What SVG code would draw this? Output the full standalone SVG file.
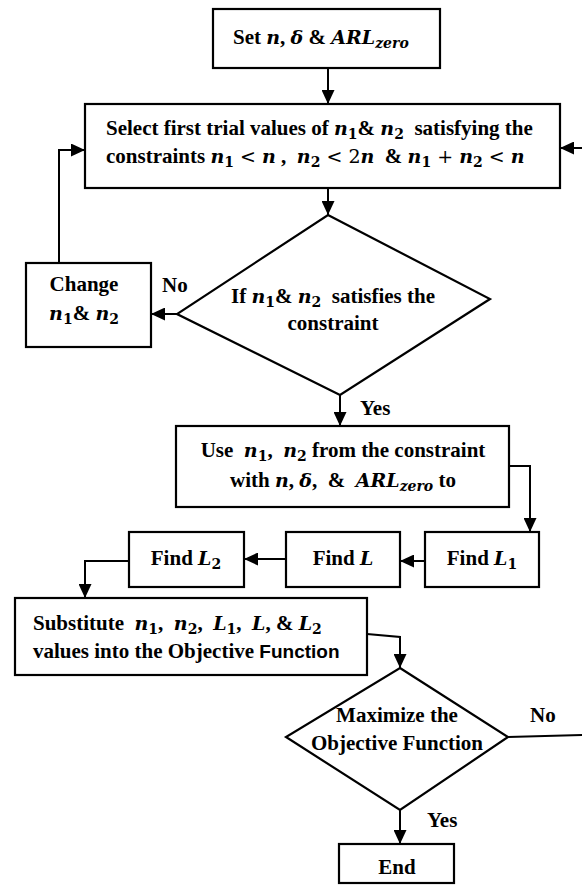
<svg xmlns="http://www.w3.org/2000/svg" width="582" height="886" viewBox="0 0 582 886">
<defs>
<marker id="ah" markerUnits="userSpaceOnUse" markerWidth="14" markerHeight="13" refX="14" refY="6.5" orient="auto">
<path d="M0,0 L14,6.5 L0,13 z" fill="#000"/>
</marker>
<style>
.box{fill:#fff;stroke:#000;stroke-width:2.2}
.ln{fill:none;stroke:#000;stroke-width:2}
.t{font-family:"Liberation Serif",serif;font-weight:bold;font-size:21px;fill:#000;white-space:pre}
.m{font-family:"DejaVu Serif",serif;font-style:italic;font-size:19px}
.s{font-family:"DejaVu Serif",serif;font-size:14px}
.r{font-family:"DejaVu Serif",serif;font-weight:normal;font-size:19px}
.sf{font-family:"Liberation Sans",sans-serif;font-size:19px}
</style>
</defs>
<rect width="582" height="886" fill="#fff"/>

<g id="connectors">
<line class="ln" x1="328" y1="68" x2="328" y2="104" marker-end="url(#ah)"/>
<line class="ln" x1="328" y1="188" x2="328" y2="215" marker-end="url(#ah)"/>
<line class="ln" x1="177" y1="314" x2="151" y2="314" marker-end="url(#ah)"/>
<polyline class="ln" points="59,263 59,150 85,150" marker-end="url(#ah)"/>
<line class="ln" x1="340" y1="395" x2="340" y2="426" marker-end="url(#ah)"/>
<polyline class="ln" points="509,466 530,466 530,532" marker-end="url(#ah)"/>
<line class="ln" x1="425" y1="561" x2="400" y2="561" marker-end="url(#ah)"/>
<line class="ln" x1="286" y1="559" x2="244" y2="559" marker-end="url(#ah)"/>
<polyline class="ln" points="129,561 85,561 85,598" marker-end="url(#ah)"/>
<polyline class="ln" points="367,634 400,637 400,668" marker-end="url(#ah)"/>
<line class="ln" x1="400" y1="810" x2="400" y2="844" marker-end="url(#ah)"/>
<line class="ln" x1="508" y1="737" x2="582" y2="735"/>
<line class="ln" x1="582" y1="148" x2="560" y2="148" marker-end="url(#ah)"/>
<text class="t" x="162" y="292">No</text>
<text class="t" x="360" y="415">Yes</text>
<text class="t" x="530" y="722">No</text>
<text class="t" x="427" y="827">Yes</text>
</g>

<g id="start">
<rect class="box" x="213" y="9" width="227" height="59"/>
<text class="t" x="233" y="44">Set <tspan class="m">n</tspan>, <tspan class="m">δ</tspan> &amp; <tspan class="m">ARL</tspan><tspan class="s m" dy="4" style="font-size:14px">zero</tspan></text>
</g>

<g id="select">
<rect class="box" x="85" y="104" width="475" height="84"/>
<text class="t" x="106" y="135">Select first trial values of <tspan class="m">n</tspan><tspan class="s" dy="4">1</tspan><tspan dy="-4">&amp; </tspan><tspan class="m">n</tspan><tspan class="s" dy="4">2</tspan><tspan dy="-4">  satisfying the</tspan></text>
<text class="t" x="106" y="163">constraints <tspan class="m">n</tspan><tspan class="s" dy="4">1</tspan><tspan class="r" dy="-4"> &lt; </tspan><tspan class="m">n</tspan> ,  <tspan class="m">n</tspan><tspan class="s" dy="4">2</tspan><tspan class="r" dy="-4"> &lt; 2</tspan><tspan class="m">n</tspan>  &amp; <tspan class="m">n</tspan><tspan class="s" dy="4">1</tspan><tspan class="r" dy="-4"> + </tspan><tspan class="m">n</tspan><tspan class="s" dy="4">2</tspan><tspan class="r" dy="-4"> &lt; </tspan><tspan class="m">n</tspan></text>
</g>

<g id="check">
<polygon class="box" points="328,215 490,299 340,395 177,314"/>
<text class="t" x="333" y="303" text-anchor="middle">If <tspan class="m">n</tspan><tspan class="s" dy="4">1</tspan><tspan dy="-4">&amp; </tspan><tspan class="m">n</tspan><tspan class="s" dy="4">2</tspan><tspan dy="-4">  satisfies the</tspan></text>
<text class="t" x="333" y="330" text-anchor="middle">constraint</text>
</g>

<g id="change">
<rect class="box" x="26" y="263" width="125" height="84"/>
<text class="t" x="84" y="291" text-anchor="middle">Change</text>
<text class="t" x="84" y="320" text-anchor="middle"><tspan class="m">n</tspan><tspan class="s" dy="4">1</tspan><tspan dy="-4">&amp; </tspan><tspan class="m">n</tspan><tspan class="s" dy="4">2</tspan></text>
</g>

<g id="use">
<rect class="box" x="176" y="426" width="333" height="81"/>
<text class="t" x="343" y="457" text-anchor="middle">Use  <tspan class="m">n</tspan><tspan class="s" dy="4">1</tspan><tspan dy="-4">,  </tspan><tspan class="m">n</tspan><tspan class="s" dy="4">2</tspan><tspan dy="-4"> from the constraint</tspan></text>
<text class="t" x="343" y="487" text-anchor="middle">with <tspan class="m">n</tspan>, <tspan class="m">δ</tspan>,  &amp;  <tspan class="m">ARL</tspan><tspan class="s m" dy="4" style="font-size:14px">zero</tspan><tspan dy="-4"> to</tspan></text>
</g>

<g id="findL1">
<rect class="box" x="425" y="532" width="114" height="55"/>
<text class="t" x="482" y="565" text-anchor="middle">Find <tspan class="m">L</tspan><tspan class="s" dy="4">1</tspan></text>
</g>

<g id="findL">
<rect class="box" x="286" y="532" width="114" height="55"/>
<text class="t" x="343" y="565" text-anchor="middle">Find <tspan class="m">L</tspan></text>
</g>

<g id="findL2">
<rect class="box" x="129" y="532" width="115" height="55"/>
<text class="t" x="186" y="565" text-anchor="middle">Find <tspan class="m">L</tspan><tspan class="s" dy="4">2</tspan></text>
</g>

<g id="substitute">
<rect class="box" x="15" y="598" width="352" height="77"/>
<text class="t" x="33" y="630">Substitute  <tspan class="m">n</tspan><tspan class="s" dy="4">1</tspan><tspan dy="-4">,  </tspan><tspan class="m">n</tspan><tspan class="s" dy="4">2</tspan><tspan dy="-4">,  </tspan><tspan class="m">L</tspan><tspan class="s" dy="4">1</tspan><tspan dy="-4">,  </tspan><tspan class="m">L</tspan>, &amp; <tspan class="m">L</tspan><tspan class="s" dy="4">2</tspan></text>
<text class="t" x="33" y="658">values into the Objective <tspan class="sf">Function</tspan></text>
</g>

<g id="maximize">
<polygon class="box" points="400,668 508,737 400,810 286,737"/>
<text class="t" x="397" y="722" text-anchor="middle">Maximize the</text>
<text class="t" x="397" y="750" text-anchor="middle">Objective Function</text>
</g>

<g id="end">
<rect class="box" x="339" y="844" width="115" height="39"/>
<text class="t" x="397" y="874" text-anchor="middle">End</text>
</g>
</svg>
